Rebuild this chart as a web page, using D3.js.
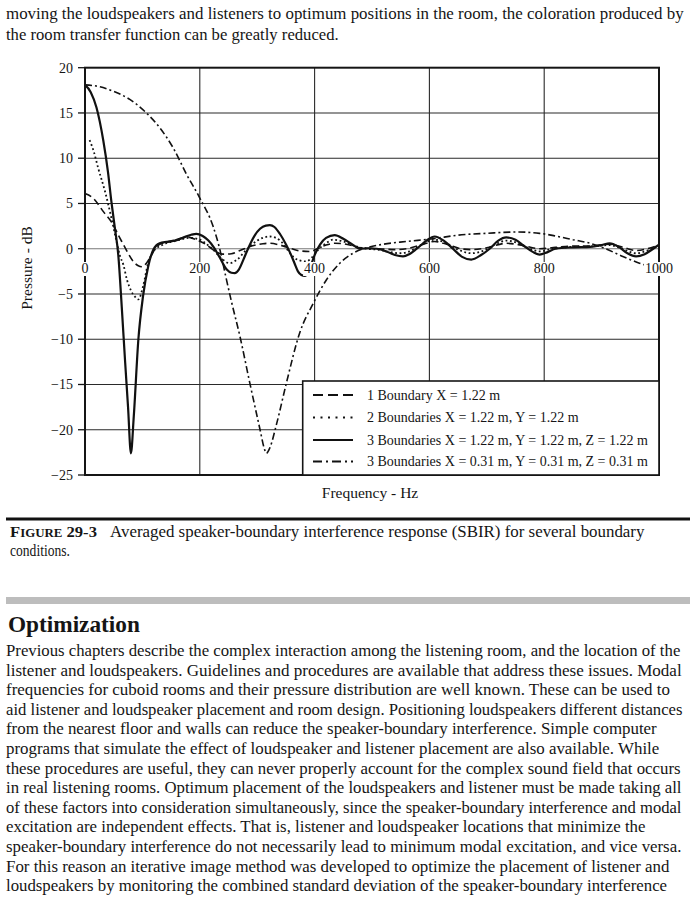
<!DOCTYPE html>
<html><head><meta charset="utf-8">
<script src="https://cdn.jsdelivr.net/npm/d3@7"></script>
<style>
body{margin:0;background:#fff}
svg{display:block}
text{font-family:"Liberation Serif","Times New Roman",serif;fill:#151515}
</style>
</head><body><svg id="c" width="695" height="900"></svg>
<script>
// ---------- data ----------
const xTicks = [0, 200, 400, 600, 800, 1000];
const yTicks = [20, 15, 10, 5, 0, -5, -10, -15, -20, -25];
const xTickLabels = ["0", "200", "400", "600", "800", "1000"];
const yTickLabels = ["20", "15", "10", "5", "0", "\u22125", "\u221210", "\u221215", "\u221220", "\u221225"];
const seriesNames = [
  "1 Boundary X = 1.22 m",
  "2 Boundaries X = 1.22 m, Y = 1.22 m",
  "3 Boundaries X = 1.22 m, Y = 1.22 m, Z = 1.22 m",
  "3 Boundaries X = 0.31 m, Y = 0.31 m, Z = 0.31 m"
];
// 1 boundary (dashed)
const freq1 = [0,14,32,49,58,67,76,84,92,99,107,115,125,140,160,177,194,210,225,240,255,270,290,310,322,340,360,375,392,405,420,435,455,480,510,540,560,585,609,630,655,673,700,734,760,792,820,850,880,914,940,960,980,1000];
const db1   = [6.1,5.6,4.1,2.65,1.5,0.45,-0.6,-1.4,-1.85,-2.0,-1.6,-0.8,0.25,0.7,1.0,1.3,1.0,0.5,-0.2,-0.6,-0.55,-0.2,0.3,0.55,0.6,0.4,0.0,-0.25,-0.3,0.0,0.4,0.6,0.5,0.1,0.0,-0.1,0.0,0.4,0.8,0.5,0.0,-0.1,0.1,0.6,0.4,0.0,0.15,0.3,0.3,0.5,0.1,-0.2,0.0,0.4];
// 2 boundaries (dotted)
const freq2 = [8,15,23,35,46,55,61,67,73,80,87,93,101,110,119,136,160,183,200,212,223,235,252,265,280,300,322,340,355,363,374,385,395,405,420,432,450,470,490,510,530,548,565,585,609,630,650,673,695,715,734,755,775,792,815,850,880,914,935,960,980,1000];
const db2   = [12.0,10.8,8.9,6.3,3.4,0.8,-0.8,-1.8,-3.4,-4.6,-5.3,-5.6,-4.2,-1.6,-0.3,0.45,0.9,1.2,1.0,0.5,-0.1,-0.9,-1.6,-1.2,-0.2,0.9,1.35,0.9,-0.3,-0.9,-1.3,-1.4,-1.0,-0.2,0.6,1.0,0.8,0.3,0.0,-0.1,-0.35,-0.5,-0.3,0.4,1.0,0.6,-0.1,-0.5,-0.2,0.5,0.9,0.6,0.0,-0.3,0.0,0.2,0.25,0.4,0.0,-0.5,-0.2,0.4];
// 3 boundaries 1.22 m (solid)
const freq3 = [0,10,20,32,40,46,52,58,64,70,75,80,85,93,101,110,119,130,142,154,170,185,194,205,215,225,235,247,255,261,268,276,284,295,305,315,322,330,340,350,357,365,371,377,383,389,395,400,410,420,435,450,465,479,495,508,525,540,554,565,578,595,609,625,641,657,673,690,705,720,734,750,765,780,792,805,820,850,880,900,914,930,945,960,975,990,1000];
const db3   = [18.1,17.3,15.6,11.9,8.5,5.2,2.3,-0.7,-6.4,-12.6,-17.5,-22.6,-18.5,-10,-5.3,-2.0,-0.1,0.6,0.75,0.85,1.2,1.55,1.65,1.4,0.9,0.1,-1.0,-2.3,-2.65,-2.7,-2.3,-1.2,0.0,1.4,2.2,2.55,2.6,2.4,1.6,0.5,-0.4,-1.6,-2.5,-2.9,-3.0,-2.6,-1.6,-0.7,0.5,1.2,1.5,1.1,0.5,0.0,0.05,0.0,-0.3,-0.7,-0.85,-0.6,0.0,0.9,1.35,0.9,0.0,-0.9,-1.2,-0.7,0.0,0.9,1.25,1.0,0.3,-0.35,-0.65,-0.4,0.0,0.15,0.2,0.4,0.6,0.2,-0.5,-0.85,-0.6,0.0,0.45];
// 3 boundaries 0.31 m (dash-dot)
const freq4 = [0,26,49,78,107,131,154,177,200,223,235,245,255,270,287,305,312,316,322,334,351,374,398,421,444,467,490,520,560,606,650,700,752,792,820,850,880,903,937,966,1000];
const db4   = [18.1,17.9,17.4,16.5,15.0,13.3,11.1,8.2,5.6,2.5,-0.1,-3.0,-5.8,-9.7,-14.8,-20,-22,-22.6,-22,-19.3,-14.8,-9.3,-6.0,-3.4,-1.6,-0.5,0.1,0.5,0.8,1.1,1.5,1.7,1.85,1.7,1.4,1.0,0.6,0.1,-0.85,-1.6,-2.2];

const seriesFreq = [freq1, freq2, freq3, freq4];
const seriesDb = [db1, db2, db3, db4];

// ---------- styles ----------
const curveDash  = ["7,4", "1.8,2.6", null, "7,3,2,3"];
const legendDash = ["10,5", "2,5.5", null, "9,4,2,4"];
const curveWidth = [1.6, 1.8, 2.2, 1.6];

const svg = d3.select("#c");

// ---------- page text (condensed by horizontal scaling to the measured width) ----------
function line(t, x, y, size, len, weight) {
  const e = svg.append("text").attr("x", 0).attr("y", 0).attr("font-size", size).text(t);
  if (weight) e.attr("font-weight", weight);
  const w = e.node().getComputedTextLength();
  const s = len ? len / w : 1;
  e.attr("transform", `translate(${x},${y}) scale(${s},1)`);
  return e;
}
line("moving the loudspeakers and listeners to optimum positions in the room, the coloration produced by", 6, 19, 17, 678);
line("the room transfer function can be greatly reduced.", 6, 40, 17, 333);

// ---------- chart ----------
const x = d3.scaleLinear().domain([0, 1000]).range([85, 659]);
const y = d3.scaleLinear().domain([-25, 20]).range([475, 67.7]);
const g = svg.append("g");

// grid
g.selectAll(".vg").data(xTicks.slice(1, -1)).enter().append("line")
  .attr("x1", d => x(d)).attr("x2", d => x(d)).attr("y1", y(20)).attr("y2", y(-25))
  .attr("stroke", "#2a2a2a").attr("stroke-width", 1.1);
g.selectAll(".hg").data(yTicks.slice(1, -1)).enter().append("line")
  .attr("x1", x(0)).attr("x2", x(1000)).attr("y1", d => y(d)).attr("y2", d => y(d))
  .attr("stroke", d => d === 0 ? "#777" : "#2a2a2a").attr("stroke-width", 1.1);

// curves
const lineGen = d3.line().x(d => x(d[0])).y(d => y(d[1])).curve(d3.curveMonotoneX);
seriesFreq.forEach((fr, i) => {
  const pts = fr.map((f, j) => [f, seriesDb[i][j]]);
  const p = g.append("path").datum(pts).attr("d", lineGen)
    .attr("fill", "none").attr("stroke", "#111").attr("stroke-width", curveWidth[i])
    .attr("stroke-linejoin", "round");
  if (curveDash[i]) p.attr("stroke-dasharray", curveDash[i]);
});

// frame
g.append("rect").attr("x", x(0)).attr("y", y(20)).attr("width", x(1000) - x(0)).attr("height", y(-25) - y(20))
  .attr("fill", "none").attr("stroke", "#151515").attr("stroke-width", 2);

// y ticks and labels
g.selectAll(".yt").data(yTicks).enter().append("line")
  .attr("x1", x(0) - 7).attr("x2", x(0)).attr("y1", d => y(d)).attr("y2", d => y(d))
  .attr("stroke", "#151515").attr("stroke-width", 1.3);
g.selectAll(".yl").data(yTicks).enter().append("text")
  .attr("x", 73).attr("y", d => y(d) + 5).attr("text-anchor", "end").attr("font-size", 14)
  .text((d, i) => yTickLabels[i]);

// x tick labels with white background
xTicks.forEach((d, i) => {
  const t = g.append("text").attr("x", x(d)).attr("y", 273).attr("text-anchor", "middle")
    .attr("font-size", 14).text(xTickLabels[i]);
  const b = t.node().getBBox();
  g.insert("rect", () => t.node()).attr("x", b.x - 1).attr("y", b.y + 1).attr("width", b.width + 2).attr("height", b.height - 1)
    .attr("fill", "#fff");
});

// axis titles
g.append("text").attr("transform", "translate(32,268) rotate(-90)").attr("text-anchor", "middle")
  .attr("font-size", 15.5).text("Pressure - dB");
g.append("text").attr("x", 370).attr("y", 498).attr("text-anchor", "middle")
  .attr("font-size", 15.5).text("Frequency - Hz");

// legend
const lg = g.append("g");
lg.append("rect").attr("x", 302.7).attr("y", 381).attr("width", x(1000) - 302.7).attr("height", y(-25) - 381)
  .attr("fill", "#fff").attr("stroke", "#151515").attr("stroke-width", 1.6);
const legY = [395, 417.5, 440, 461.5];
seriesNames.forEach((n, i) => {
  const l = lg.append("line").attr("x1", 313).attr("x2", 353).attr("y1", legY[i]).attr("y2", legY[i])
    .attr("stroke", "#111").attr("stroke-width", 1.8);
  if (legendDash[i]) l.attr("stroke-dasharray", legendDash[i]);
  lg.append("text").attr("x", 367).attr("y", legY[i] + 4.5).attr("font-size", 14).text(n);
});

// ---------- caption ----------
svg.append("rect").attr("x", 6).attr("y", 517.5).attr("width", 684).attr("height", 3).attr("fill", "#111");
const cap = svg.append("text").attr("x", 0).attr("y", 0).attr("font-weight", "bold");
cap.append("tspan").attr("font-size", 15.5).text("F");
cap.append("tspan").attr("font-size", 12).text("IGURE");
cap.append("tspan").attr("font-size", 15.5).text(" 29-3");
cap.attr("transform", `translate(10,537) scale(${87 / cap.node().getComputedTextLength()},1)`);
line("Averaged speaker-boundary interference response (SBIR) for several boundary", 110, 537, 16.5, 535);
line("conditions.", 10, 556, 16.5, 60);

svg.append("rect").attr("x", 6).attr("y", 597).attr("width", 684).attr("height", 7).attr("fill", "#bdbdbd");
line("Optimization", 8, 632, 24, 132, "bold");

const body = [
  ["Previous chapters describe the complex interaction among the listening room, and the location of the", 675],
  ["listener and loudspeakers. Guidelines and procedures are available that address these issues. Modal", 676],
  ["frequencies for cuboid rooms and their pressure distribution are well known. These can be used to", 664],
  ["aid listener and loudspeaker placement and room design. Positioning loudspeakers different distances", 677],
  ["from the nearest floor and walls can reduce the speaker-boundary interference. Simple computer", 651],
  ["programs that simulate the effect of loudspeaker and listener placement are also available. While", 654],
  ["these procedures are useful, they can never properly account for the complex sound field that occurs", 675],
  ["in real listening rooms. Optimum placement of the loudspeakers and listener must be made taking all", 676],
  ["of these factors into consideration simultaneously, since the speaker-boundary interference and modal", 676],
  ["excitation are independent effects. That is, listener and loudspeaker locations that minimize the", 640],
  ["speaker-boundary interference do not necessarily lead to minimum modal excitation, and vice versa.", 676],
  ["For this reason an iterative image method was developed to optimize the placement of listener and", 664],
  ["loudspeakers by monitoring the combined standard deviation of the speaker-boundary interference", 662]
];
body.forEach((b, i) => line(b[0], 6, 656 + i * 19.6, 17, b[1]));
</script>
</body></html>
